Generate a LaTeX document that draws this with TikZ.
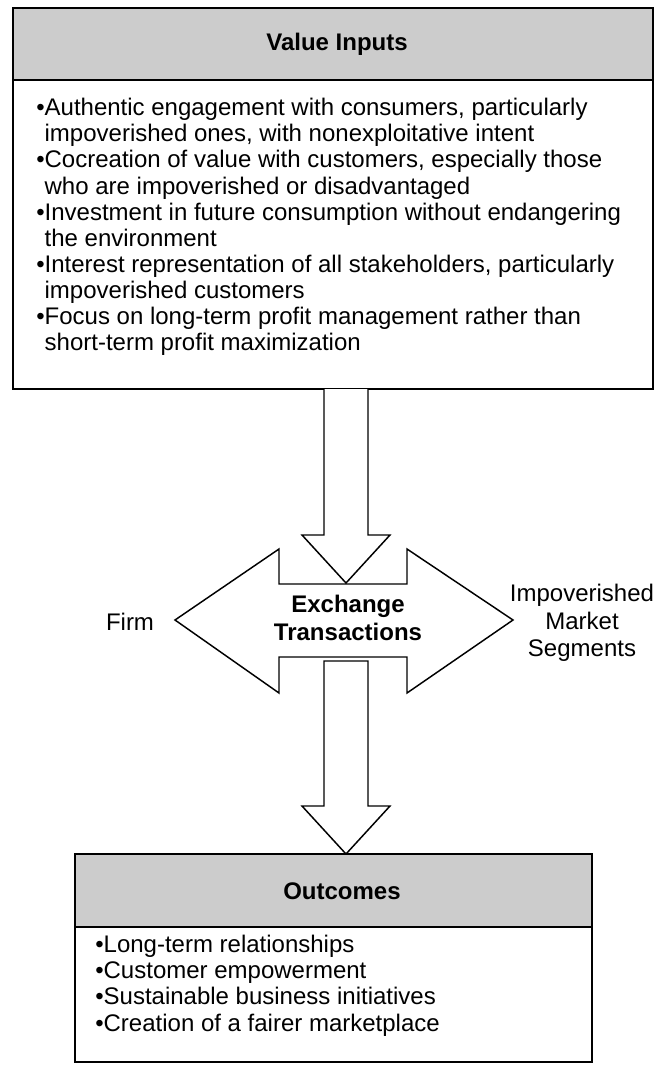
\documentclass[tikz,border=0pt]{standalone}
\usepackage{fontspec}
\setmainfont{Liberation Sans}
\usepackage{tikz}
\usetikzlibrary{positioning}
\definecolor{headgray}{RGB}{204,204,204}

\begin{document}
\begin{tikzpicture}[x=0.75pt, y=-0.75pt, line join=miter,
    box/.style={draw, line width=1.1pt},
    blockarrow/.style={draw, fill=white, line width=1.1pt},
    headtext/.style={inner sep=0pt, font=\fontsize{18pt}{21pt}\selectfont\bfseries},
    bullets/.style={align=left, inner sep=0pt, font=\fontsize{18pt}{19.6pt}\selectfont},
    sidetext/.style={align=center, inner sep=0pt, font=\fontsize{18pt}{20.6pt}\selectfont}]
  \useasboundingbox (0,0) rectangle (665,1086);

  % value inputs box
  \draw[box, fill=headgray] (13,8) rectangle (653,80);
  \draw[box] (13,80) rectangle (653,389);
  \node[headtext] (inputs) at (337,44) {Value Inputs};
  \node[bullets, anchor=north west] (inputlist) at (36,98)
    {•Authentic engagement with consumers, particularly\\
     \phantom{•}impoverished ones, with nonexploitative intent\\
     •Cocreation of value with customers, especially those\\
     \phantom{•}who are impoverished or disadvantaged\\
     •Investment in future consumption without endangering\\
     \phantom{•}the environment\\
     •Interest representation of all stakeholders, particularly\\
     \phantom{•}impoverished customers\\
     •Focus on long-term profit management rather than\\
     \phantom{•}short-term profit maximization};

  % exchange double arrow
  \draw[blockarrow] (175,620) -- (279,549) -- (279,584) -- (407,584) -- (407,549)
    -- (513,620) -- (407,693) -- (407,657) -- (279,657) -- (279,693) -- cycle;
  \node[headtext, align=center] (exchange) at (348,618) {Exchange\\Transactions};
  \node[sidetext, anchor=base] (firm) at (130,630) {Firm};
  \node[sidetext, anchor=north] (market) at (582,584) {Impoverished\\Market\\Segments};

  % down arrows
  \draw[blockarrow] (324,389) -- (324,535) -- (302,535) -- (346,583) -- (390,535)
    -- (368,535) -- (368,389);
  \draw[blockarrow] (324,661) -- (324,806) -- (302,806) -- (346,854) -- (390,806)
    -- (368,806) -- (368,661) -- cycle;

  % outcomes box
  \draw[box, fill=headgray] (75,854) rectangle (592,927);
  \draw[box] (75,927) rectangle (592,1062);
  \node[headtext] (outcomes) at (342,891) {Outcomes};
  \node[bullets, anchor=north west] (outcomelist) at (95,935)
    {•Long-term relationships\\
     •Customer empowerment\\
     •Sustainable business initiatives\\
     •Creation of a fairer marketplace};
\end{tikzpicture}
\end{document}
